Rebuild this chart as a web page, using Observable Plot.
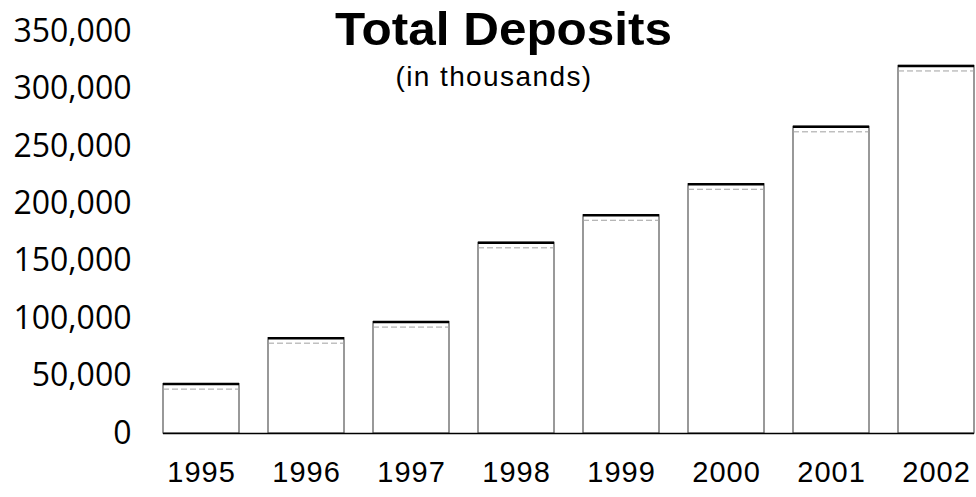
<!DOCTYPE html>
<html>
<head>
<meta charset="utf-8">
<script src="https://cdn.jsdelivr.net/npm/d3@7"></script>
<script src="https://cdn.jsdelivr.net/npm/@observablehq/plot@0.6"></script>
<style>
  html, body { margin: 0; padding: 0; background: #fff; }
  #wrap { position: relative; width: 976px; height: 497px; overflow: hidden; }
  #title { position: absolute; top: 1px; left: 0; white-space: nowrap; line-height: normal;
    font-family: "Liberation Sans Narrow", "Liberation Sans", sans-serif; font-weight: bold;
    font-size: 47px; color: #000; transform-origin: 0 0; }
  #subtitle { position: absolute; top: 0; left: 0; white-space: nowrap; line-height: 1;
    font-family: "Liberation Sans", Arial, sans-serif; font-size: 28px; letter-spacing: 1.4px; color: #000; }
</style>
</head>
<body>
<div id="wrap">
  <div id="chart"></div>
  <div id="title">Total Deposits</div>
  <div id="subtitle">(in thousands)</div>
</div>
<script>
const years = ["1995", "1996", "1997", "1998", "1999", "2000", "2001", "2002"];
const deposits = [43000, 83000, 97000, 166000, 190000, 217000, 267000, 320000];
const yTicks = [0, 50000, 100000, 150000, 200000, 250000, 300000, 350000];

const data = years.map((year, i) => ({year, value: deposits[i]}));

const chart = Plot.plot({
  width: 976,
  height: 497,
  marginLeft: 163,
  marginRight: 2,
  marginTop: 31,
  marginBottom: 64,
  style: {background: "white", color: "#000"},
  x: {domain: years, paddingInner: 0.28, paddingOuter: 0, label: null},
  y: {domain: [0, 350000], label: null},
  marks: [
    Plot.barY(data, {x: "year", y: "value", fill: "white", stroke: "#555", strokeWidth: 1.2}),
    Plot.tickY(data, {x: "year", y: "value", dy: 5, stroke: "#a0a0a0", strokeWidth: 1, strokeDasharray: "6,3"}),
    Plot.tickY(data, {x: "year", y: "value", stroke: "#000", strokeWidth: 2.5}),
    Plot.ruleY([0], {stroke: "#000", strokeWidth: 1.5}),
    Plot.axisY({ticks: yTicks, tickSize: 0, tickPadding: 32, tickFormat: d3.format(","),
      fontSize: 32, fontFamily: "Open Sans, Noto Sans, sans-serif"}),
    Plot.axisX({tickSize: 0, tickPadding: 28, fontSize: 29, fontFamily: "Liberation Sans, Arial, sans-serif"})
  ]
});
document.getElementById("chart").appendChild(chart);
d3.select(chart).selectAll('g[aria-label="x-axis tick label"] text').style("letter-spacing", "1px");

// Title: fit to measured width and center
const title = document.getElementById("title");
const tw = title.getBoundingClientRect().width;
const targetW = 337;
const sx = targetW / tw;
title.style.transform = `scaleX(${sx})`;
title.style.left = (503 - targetW / 2) + "px";

const sub = document.getElementById("subtitle");
const sw = sub.getBoundingClientRect().width;
sub.style.left = (494 - sw / 2) + "px";
sub.style.top = "63px";
</script>
</body>
</html>
